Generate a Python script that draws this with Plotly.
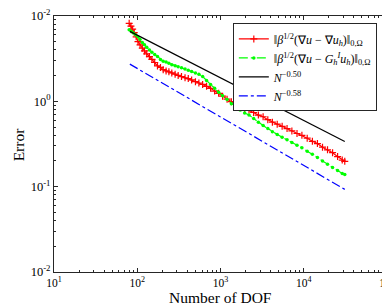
import plotly.graph_objects as go

# ---- data ----
dof_red = [80, 84, 88, 92, 97, 102, 108, 115, 122, 130, 140, 150, 162, 175, 190, 205,
           222, 240, 260, 285, 310, 340, 375, 410, 450, 500, 550, 610, 680, 760, 850,
           950, 1060, 1200, 1350, 1520, 1720, 1950, 2200, 2500, 2850, 3250, 3700, 4200,
           4800, 5500, 6300, 7200, 8300, 9500, 11000, 12700, 14600, 16800, 19300, 22200,
           25500, 29000, 31100]
err_red = [8.2, 7.6, 7.0, 6.4, 5.7, 5.0, 4.6, 4.2, 3.9, 3.6, 3.35, 3.1, 2.85, 2.6, 2.5,
           2.35, 2.27, 2.22, 2.15, 2.08, 2.01, 1.95, 1.89, 1.85, 1.78, 1.70, 1.64, 1.58,
           1.50, 1.42, 1.32, 1.24, 1.15, 1.06, 0.99, 0.92, 0.86, 0.82, 0.79, 0.74, 0.69,
           0.66, 0.61, 0.57, 0.54, 0.51, 0.48, 0.45, 0.42, 0.40, 0.37, 0.34, 0.32, 0.29,
           0.27, 0.25, 0.225, 0.205, 0.198]

dof_green = [80, 85, 90, 96, 102, 108, 115, 122, 130, 140, 150, 162, 175, 190, 205, 222,
             240, 260, 285, 310, 340, 375, 410, 450, 500, 550, 610, 680, 760, 850, 950,
             1060, 1200, 1350, 1520, 1720, 1950, 2200, 2500, 2850, 3250, 3700, 4200,
             4800, 5500, 6300, 7200, 8300, 9500, 11000, 12700, 14600, 16800, 19300,
             22200, 25500, 29000, 31100]
err_green = [6.9, 6.6, 6.3, 6.0, 5.7, 5.3, 4.9, 4.6, 4.3, 4.0, 3.75, 3.55, 3.35, 3.1,
             2.95, 2.9, 2.8, 2.68, 2.62, 2.55, 2.47, 2.40, 2.32, 2.24, 2.15, 2.08, 1.95,
             1.75, 1.57, 1.42, 1.28, 1.16, 1.05, 0.94, 0.86, 0.79, 0.73, 0.69, 0.63, 0.57,
             0.52, 0.48, 0.44, 0.41, 0.38, 0.355, 0.33, 0.305, 0.285, 0.26, 0.24, 0.22,
             0.20, 0.183, 0.168, 0.155, 0.143, 0.139]

dof_ref = [81.5, 31100]
err_ref050 = [6.6, 0.338]
err_ref058 = [2.73, 0.093]

x_tickvals = [10, 100, 1000, 10000, 100000]
x_ticktext = ["10<sup>1</sup>", "10<sup>2</sup>", "10<sup>3</sup>", "10<sup>4</sup>", "10<sup>5</sup>"]
y_tickvals = [0.01, 0.1, 1, 10]
y_ticktext = ["10<sup>-2</sup>", "10<sup>-1</sup>", "10<sup>0</sup>", "10<sup>-2</sup>"]

names = [
    "‖<i>β</i><sup>1/2</sup>(∇<i>u</i> − ∇<i>u</i><sub><i>h</i></sub>)‖<sub>0,Ω</sub>",
    "‖<i>β</i><sup>1/2</sup>(∇<i>u</i> − <i>G</i><sub><i>h</i></sub><sup><i>I</i></sup><i>u</i><sub><i>h</i></sub>)‖<sub>0,Ω</sub>",
    "<i>N</i><sup>−0.50</sup>",
    "<i>N</i><sup>−0.58</sup>",
]

FONT = "Liberation Serif"
AX = "#262626"

fig = go.Figure()
fig.add_trace(go.Scatter(x=dof_red, y=err_red, name=names[0], mode="lines+markers",
                         line=dict(color="red", width=1.2),
                         marker=dict(symbol="cross-thin", size=5, color="red",
                                     line=dict(color="red", width=1.2))))
fig.add_trace(go.Scatter(x=dof_green, y=err_green, name=names[1], mode="lines+markers",
                         line=dict(color="#00ff00", width=1.2, dash="dashdot"),
                         marker=dict(symbol="circle", size=3.5, color="#00ff00")))
fig.add_trace(go.Scatter(x=dof_ref, y=err_ref050, name=names[2], mode="lines",
                         line=dict(color="black", width=1.2)))
fig.add_trace(go.Scatter(x=dof_ref, y=err_ref058, name=names[3], mode="lines",
                         line=dict(color="blue", width=1.2, dash="dashdot")))

axis_common = dict(type="log", showgrid=False, zeroline=False, showline=True,
                   linecolor=AX, linewidth=1, mirror="allticks", ticks="inside",
                   ticklen=4, tickcolor=AX,
                   ticklabeloverflow="allow",
                   minor=dict(ticks="inside", ticklen=2, tickcolor=AX, dtick="D1", showgrid=False))

fig.update_xaxes(**axis_common, range=[1, 5], tickmode="array", tickvals=x_tickvals,
                 ticktext=x_ticktext, tickfont=dict(family=FONT, size=11.5, color="black"))
fig.update_yaxes(**axis_common, range=[-2, 1], tickmode="array", tickvals=y_tickvals,
                 ticktext=y_ticktext, tickfont=dict(family=FONT, size=12.5, color="black"))

fig.add_annotation(text="Error", xref="paper", yref="paper", x=-0.107, y=0.5,
                   xanchor="center", yanchor="middle", textangle=-90, showarrow=False,
                   font=dict(family=FONT, size=15.5, color="black"))
fig.add_annotation(text="Number of DOF", xref="paper", yref="paper", x=0.5, y=-0.1,
                   xanchor="center", yanchor="middle", showarrow=False,
                   font=dict(family=FONT, size=15.5, color="black"))

fig.update_layout(
    width=390, height=305,
    margin=dict(l=46, r=11, t=8, b=41, autoexpand=False),
    plot_bgcolor="white", paper_bgcolor="white",
    font=dict(family=FONT, color="black"),
    legend=dict(x=0.537, y=0.971, xanchor="left", yanchor="top",
                bgcolor="white", bordercolor=AX, borderwidth=1,
                font=dict(family=FONT, size=12, color="black"),
                tracegroupgap=0, itemwidth=30),
    showlegend=True,
)

fig.write_html("out.html")
